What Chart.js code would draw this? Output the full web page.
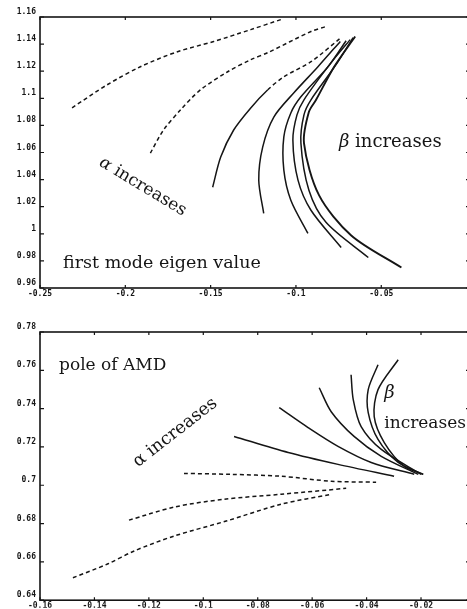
<!DOCTYPE html>
<html>
<head>
<meta charset="utf-8">
<script src="https://cdn.jsdelivr.net/npm/chart.js@4"></script>
<style>
  html, body { margin: 0; padding: 0; background: #fff; overflow: hidden; }
  body { width: 467px; height: 609px; position: relative; }
  .plot { position: absolute; left: 0; }
</style>
</head>
<body>
<canvas id="eigenChart" class="plot" width="470" height="300" style="top:0"></canvas>
<canvas id="poleChart" class="plot" width="470" height="299" style="top:310px"></canvas>
<script>
// first mode eigen value, alpha family (dashed)
const eigA1x = [-0.2312, -0.2106, -0.1912, -0.1694, -0.1482, -0.1265, -0.1088];
const eigA1y = [1.0930, 1.1100, 1.1233, 1.1344, 1.1419, 1.1507, 1.1581];
const eigA2x = [-0.1853, -0.1776, -0.1676, -0.1559, -0.1400, -0.1265, -0.1165, -0.0912, -0.0824];
const eigA2y = [1.0596, 1.0766, 1.0915, 1.1063, 1.1196, 1.1285, 1.1337, 1.1493, 1.1530];
const eigA3x = [-0.1488, -0.1441, -0.1365, -0.1265, -0.1165, -0.1071, -0.0912, -0.0735];
const eigA3y = [1.0344, 1.0566, 1.0766, 1.0929, 1.1063, 1.1159, 1.1270, 1.1448];

// first mode eigen value, beta family (solid)
const eigB1x = [-0.1189, -0.1218, -0.1195, -0.1129, -0.1012, -0.0871, -0.0740];
const eigB1y = [1.0151, 1.0396, 1.0640, 1.0863, 1.1041, 1.1233, 1.1420];
const eigB2x = [-0.0930, -0.1030, -0.1071, -0.1071, -0.1030, -0.0971, -0.0812, -0.0706];
const eigB2y = [1.0003, 1.0248, 1.0470, 1.0715, 1.0892, 1.1011, 1.1233, 1.1425];
const eigB3x = [-0.0735, -0.0912, -0.0988, -0.1018, -0.0994, -0.0953, -0.0794, -0.0682];
const eigB3y = [0.9899, 1.0174, 1.0396, 1.0692, 1.0878, 1.0989, 1.1263, 1.1433];
const eigB4x = [-0.0576, -0.0824, -0.0924, -0.0971, -0.0953, -0.0912, -0.0765, -0.0665];
const eigB4y = [0.9825, 1.0085, 1.0322, 1.0670, 1.0878, 1.0989, 1.1248, 1.1448];
const eigB5x = [-0.0382, -0.0676, -0.0865, -0.0953, -0.0924, -0.0882, -0.0776, -0.0653];
const eigB5y = [0.9751, 0.9988, 1.0285, 1.0670, 1.0900, 1.0989, 1.1233, 1.1456];

// pole of AMD, alpha family (dashed)
const poleA1x = [-0.1479, -0.1350, -0.1254, -0.1107, -0.0916, -0.0714, -0.0530];
const poleA1y = [0.6517, 0.6590, 0.6657, 0.6735, 0.6813, 0.6901, 0.6953];
const poleA2x = [-0.1273, -0.1107, -0.0924, -0.0714, -0.0475];
const poleA2y = [0.6818, 0.6886, 0.6927, 0.6953, 0.6984];
const poleA3x = [-0.1071, -0.0898, -0.0714, -0.0530, -0.0365];
const poleA3y = [0.7062, 0.7057, 0.7047, 0.7021, 0.7016];

// pole of AMD, beta family (solid)
const poleB1x = [-0.0887, -0.0688, -0.0505, -0.0299];
const poleB1y = [0.7255, 0.7171, 0.7109, 0.7047];
const poleB2x = [-0.0721, -0.0615, -0.0505, -0.0383, -0.0225];
const poleB2y = [0.7405, 0.7301, 0.7203, 0.7119, 0.7057];
const poleB3x = [-0.0574, -0.0530, -0.0446, -0.0346, -0.0210];
const poleB3y = [0.7509, 0.7384, 0.7255, 0.7151, 0.7057];
const poleB4x = [-0.0457, -0.0449, -0.0420, -0.0346, -0.0199];
const poleB4y = [0.7577, 0.7447, 0.7306, 0.7187, 0.7057];
const poleB5x = [-0.0358, -0.0394, -0.0394, -0.0358, -0.0284, -0.0192];
const poleB5y = [0.7629, 0.7499, 0.7379, 0.7239, 0.7119, 0.7057];
const poleB6x = [-0.0284, -0.0358, -0.0372, -0.0335, -0.0262, -0.0192];
const poleB6y = [0.7655, 0.7499, 0.7358, 0.7223, 0.7099, 0.7057];

// tick labels
const eigXTicks = [-0.25, -0.2, -0.15, -0.1, -0.05];
const eigYTicks = [0.96, 0.98, 1, 1.02, 1.04, 1.06, 1.08, 1.1, 1.12, 1.14, 1.16];
const poleXTicks = [-0.16, -0.14, -0.12, -0.1, -0.08, -0.06, -0.04, -0.02];
const poleYTicks = [0.64, 0.66, 0.68, 0.7, 0.72, 0.74, 0.76, 0.78];

const ink = '#151515';
const tickFont = { family: 'DejaVu Sans Mono', size: 8, weight: 'bold' };
const serif = '"DejaVu Serif", "Liberation Serif", serif';

function pts(xs, ys) {
  return xs.map((x, i) => ({ x: x, y: ys[i] }));
}

function curve(xs, ys, dashed, extra) {
  return Object.assign({
    data: pts(xs, ys),
    showLine: true,
    borderColor: ink,
    borderWidth: 1.5,
    borderDash: dashed ? [4, 3] : [],
    pointRadius: 0,
    tension: 0.3,
    fill: false
  }, extra || {});
}

function fmt(v) {
  return String(Number(v.toFixed(2)));
}

// box around the plot area with short inward ticks on all four sides
const framePlugin = {
  id: 'frame',
  afterDraw(chart) {
    const { ctx, chartArea: a, scales } = chart;
    ctx.save();
    ctx.strokeStyle = ink;
    ctx.lineWidth = 1.6;
    ctx.strokeRect(a.left, a.top, a.right - a.left, a.bottom - a.top);
    ctx.lineWidth = 1.2;
    ctx.beginPath();
    scales.y.ticks.forEach(t => {
      const py = scales.y.getPixelForValue(t.value);
      ctx.moveTo(a.left, py); ctx.lineTo(a.left + 4, py);
      ctx.moveTo(a.right, py); ctx.lineTo(a.right - 4, py);
    });
    scales.x.ticks.forEach(t => {
      const px = scales.x.getPixelForValue(t.value);
      ctx.moveTo(px, a.bottom); ctx.lineTo(px, a.bottom - 3);
      ctx.moveTo(px, a.top); ctx.lineTo(px, a.top + 3);
    });
    ctx.stroke();
    ctx.restore();
  }
};

// text labels placed in data coordinates, each made of styled parts
function notesPlugin(items) {
  return {
    id: 'notes',
    afterDatasetsDraw(chart) {
      const { ctx, scales: { x, y } } = chart;
      items.forEach(n => {
        ctx.save();
        ctx.translate(x.getPixelForValue(n.x), y.getPixelForValue(n.y));
        ctx.rotate((n.angle || 0) * Math.PI / 180);
        ctx.fillStyle = ink;
        ctx.textBaseline = 'alphabetic';
        let off = 0;
        n.parts.forEach(p => {
          ctx.font = p.font;
          ctx.fillText(p.text, off, 0);
          off += ctx.measureText(p.text).width;
        });
        ctx.restore();
      });
    }
  };
}

function axes(xMin, xMax, xTicks, yMin, yMax, yTicks, xHeight) {
  return {
    x: {
      type: 'linear', min: xMin, max: xMax,
      grid: { display: false, drawTicks: false },
      border: { display: false },
      afterBuildTicks: s => { s.ticks = xTicks.map(v => ({ value: v })); },
      afterFit: s => { s.height = xHeight; },
      ticks: { color: ink, font: tickFont, padding: 1, maxRotation: 0, autoSkip: false, callback: v => fmt(v) }
    },
    y: {
      type: 'linear', min: yMin, max: yMax,
      grid: { display: false, drawTicks: false },
      border: { display: false },
      afterBuildTicks: s => { s.ticks = yTicks.map(v => ({ value: v })); },
      afterFit: s => { s.width = 40; },
      ticks: { color: ink, font: tickFont, padding: 4, labelOffset: -5, autoSkip: false, callback: v => fmt(v) }
    }
  };
}

const common = {
  responsive: false,
  animation: false,
  devicePixelRatio: 1,
  plugins: { legend: { display: false }, tooltip: { enabled: false } }
};

new Chart(document.getElementById('eigenChart'), {
  type: 'scatter',
  data: {
    datasets: [
      curve(eigA1x, eigA1y, true),
      curve(eigA2x, eigA2y, true),
      curve(eigA3x, eigA3y, false, {
        segment: { borderDash: c => c.p0DataIndex >= 4 ? [4, 3] : undefined }
      }),
      curve(eigB1x, eigB1y, false),
      curve(eigB2x, eigB2y, false),
      curve(eigB3x, eigB3y, false),
      curve(eigB4x, eigB4y, false),
      curve(eigB5x, eigB5y, false, { borderWidth: 1.9 })
    ]
  },
  options: Object.assign({}, common, {
    layout: { padding: { top: 17, left: 0, right: 0, bottom: 0 } },
    scales: axes(-0.25, 0.002, eigXTicks, 0.96, 1.16, eigYTicks, 12)
  }),
  plugins: [framePlugin, notesPlugin([
    { x: -0.2365, y: 0.9744, parts: [{ text: 'first mode eigen value', font: '17.5px ' + serif }] },
    { x: -0.0748, y: 1.0640, parts: [
      { text: 'β', font: 'italic 18px ' + serif },
      { text: ' increases', font: '18px ' + serif }
    ] },
    { x: -0.2159, y: 1.0507, angle: 31, parts: [
      { text: 'α', font: 'italic 17px ' + serif },
      { text: ' increases', font: '17px ' + serif }
    ] }
  ])]
});

new Chart(document.getElementById('poleChart'), {
  type: 'scatter',
  data: {
    datasets: [
      curve(poleA1x, poleA1y, true),
      curve(poleA2x, poleA2y, true),
      curve(poleA3x, poleA3y, true),
      curve(poleB1x, poleB1y, false),
      curve(poleB2x, poleB2y, false),
      curve(poleB3x, poleB3y, false),
      curve(poleB4x, poleB4y, false),
      curve(poleB5x, poleB5y, false),
      curve(poleB6x, poleB6y, false)
    ]
  },
  options: Object.assign({}, common, {
    layout: { padding: { top: 22, left: 0, right: 0, bottom: 0 } },
    scales: axes(-0.16, -0.002, poleXTicks, 0.64, 0.78, poleYTicks, 7.5)
  }),
  plugins: [framePlugin, notesPlugin([
    { x: -0.1530, y: 0.7603, parts: [{ text: 'pole of AMD', font: '17px ' + serif }] },
    { x: -0.0335, y: 0.7457, parts: [{ text: 'β', font: 'italic 18px ' + serif }] },
    { x: -0.0335, y: 0.7301, parts: [{ text: 'increases', font: '17px ' + serif }] },
    { x: -0.1240, y: 0.7093, angle: -38, parts: [
      { text: 'α', font: '17.5px ' + serif },
      { text: ' increases', font: '17.5px ' + serif }
    ] }
  ])]
});
</script>
</body>
</html>
